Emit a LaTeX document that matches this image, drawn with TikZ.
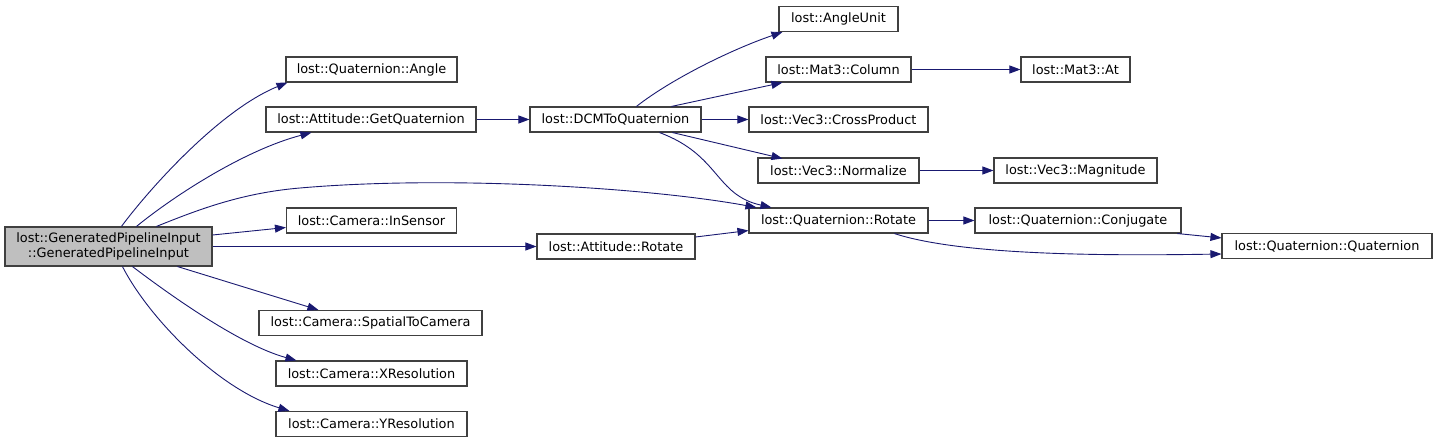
\documentclass[tikz,border=0pt]{standalone}
\usepackage{fontspec}
\setmainfont{DejaVu Sans}
\usetikzlibrary{arrows.meta,calc}
\definecolor{edgeblue}{RGB}{25,25,112}
\definecolor{boxline}{RGB}{64,64,64}
\definecolor{mainfill}{RGB}{191,191,191}
\begin{document}
\begin{tikzpicture}[x=1pt,y=-1pt,
  fn/.style={draw=boxline,line width=1.1pt,fill=white,inner sep=0pt,minimum height=25pt,
    font=\fontsize{12.9}{15.5}\selectfont,text=black},
  mainbox/.style={fn,fill=mainfill,minimum height=39pt,align=center},
  edge/.style={draw=edgeblue,line width=0.9pt,-{Triangle[length=11pt,width=8pt]}}]
\useasboundingbox (0,0) rectangle (1436,443);
% nodes
\node[mainbox,minimum width=207pt] (main) at (108.5,246.5) {lost::GeneratedPipelineInput\\::GeneratedPipelineInput};
\node[fn,minimum width=171pt] (qangle) at (371.5,69.5) {lost::Quaternion::Angle};
\node[fn,minimum width=210pt] (getq) at (371,119.5) {lost::Attitude::GetQuaternion};
\node[fn,minimum width=170pt] (insensor) at (371.5,220.5) {lost::Camera::InSensor};
\node[fn,minimum width=158pt] (arot) at (616,246.5) {lost::Attitude::Rotate};
\node[fn,minimum width=223pt] (spatial) at (370.5,323) {lost::Camera::SpatialToCamera};
\node[fn,minimum width=191pt] (xres) at (371.5,373.5) {lost::Camera::XResolution};
\node[fn,minimum width=191pt] (yres) at (371.5,424) {lost::Camera::YResolution};
\node[fn,minimum width=171pt] (dcm) at (615.5,119.5) {lost::DCMToQuaternion};
\node[fn,minimum width=119pt] (angleunit) at (838.5,19) {lost::AngleUnit};
\node[fn,minimum width=145pt] (column) at (838.5,69.5) {lost::Mat3::Column};
\node[fn,minimum width=179pt] (cross) at (838.5,119.5) {lost::Vec3::CrossProduct};
\node[fn,minimum width=161pt] (normalize) at (838.5,170.5) {lost::Vec3::Normalize};
\node[fn,minimum width=179pt] (qrot) at (838.5,220.5) {lost::Quaternion::Rotate};
\node[fn,minimum width=109pt] (at) at (1075.5,69.5) {lost::Mat3::At};
\node[fn,minimum width=163pt] (magnitude) at (1075.5,170.5) {lost::Vec3::Magnitude};
\node[fn,minimum width=206pt] (conj) at (1078,220.5) {lost::Quaternion::Conjugate};
\node[fn,minimum width=210pt] (qq) at (1327,246) {lost::Quaternion::Quaternion};
% edges from main
\draw[edge] ($(main.north west)+(117,0)$) .. controls (150,188) and (220,110) .. ($(qangle.south west)+(2,0)$);
\draw[edge] ($(main.north west)+(132,0)$) .. controls (175,195) and (245,150) .. ($(getq.south west)+(46,0)$);
\draw[edge] ($(main.north west)+(152,0)$) .. controls (195,211) and (240,193) .. (300,188)
   .. controls (450,175) and (650,188) .. ($(qrot.north west)+(8,0)$);
\draw[edge] ($(main.east)+(0,-11.5)$) -- ($(insensor.west)+(0,7)$);
\draw[edge] (main.east) -- (arot.west);
\draw[edge] ($(main.south west)+(173,0)$) -- ($(spatial.north west)+(60,0)$);
\draw[edge] ($(main.south west)+(128,0)$) .. controls (170,295) and (240,345) .. ($(xres.north west)+(21,0)$);
\draw[edge] ($(main.south west)+(118,0)$) .. controls (150,320) and (220,390) .. ($(yres.north west)+(14,0)$);
% other edges
\draw[edge] (getq.east) -- (dcm.west);
\draw[edge] ($(dcm.north west)+(107,0)$) .. controls (670,80) and (730,50) .. ($(angleunit.south west)+(4,0)$);
\draw[edge] ($(dcm.north west)+(142,0)$) -- ($(column.south west)+(17,0)$);
\draw[edge] (dcm.east) -- (cross.west);
\draw[edge] ($(dcm.south west)+(143,0)$) -- ($(normalize.south west)+(25,-25)$);
\draw[edge] ($(dcm.south west)+(130,0)$) .. controls (720,155) and (715,195) .. ($(qrot.north west)+(23,0)$);
\draw[edge] (column.east) -- (at.west);
\draw[edge] (normalize.east) -- (magnitude.west);
\draw[edge] (qrot.east) -- (conj.west);
\draw[edge] ($(qrot.south west)+(146,0)$) .. controls (960,255) and (1100,256) .. ($(qq.west)+(0,8)$);
\draw[edge] ($(conj.south west)+(203,0)$) -- ($(qq.north west)+(0,5)$);
\draw[edge] ($(arot.east)+(0,-9.5)$) -- ($(qrot.south west)+(0,-3)$);
\end{tikzpicture}
\end{document}
